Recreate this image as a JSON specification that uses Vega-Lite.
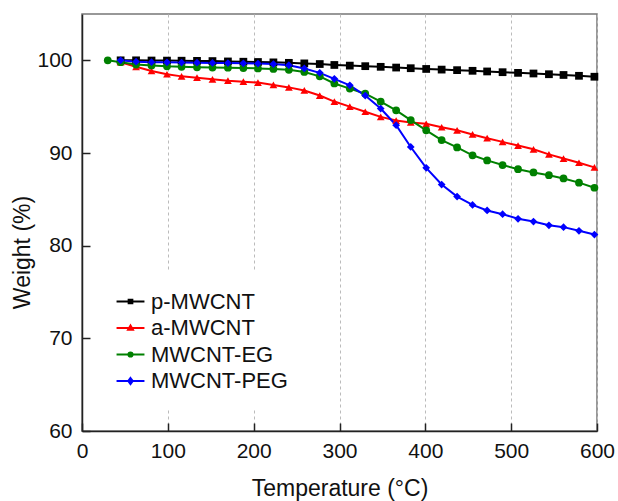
{
  "$schema": "https://vega.github.io/schema/vega-lite/v6.json",
  "width": 515,
  "height": 417,
  "autosize": {"type": "none"},
  "padding": {"left": 82, "top": 14, "right": 21, "bottom": 70},
  "background": "white",
  "config": {
    "view": {"stroke": "#777777", "strokeWidth": 1.5},
    "font": "Liberation Sans"
  },
  "resolve": {"legend": {"shape": "independent"}},
  "datasets": {
    "tga": [
      {"series": "p-MWCNT", "temperature": 45, "weight": 100.0},
      {"series": "p-MWCNT", "temperature": 63, "weight": 100.0},
      {"series": "p-MWCNT", "temperature": 81, "weight": 99.98},
      {"series": "p-MWCNT", "temperature": 99, "weight": 99.97},
      {"series": "p-MWCNT", "temperature": 116, "weight": 99.96},
      {"series": "p-MWCNT", "temperature": 134, "weight": 99.94},
      {"series": "p-MWCNT", "temperature": 152, "weight": 99.92},
      {"series": "p-MWCNT", "temperature": 170, "weight": 99.88},
      {"series": "p-MWCNT", "temperature": 188, "weight": 99.85},
      {"series": "p-MWCNT", "temperature": 205, "weight": 99.82},
      {"series": "p-MWCNT", "temperature": 223, "weight": 99.78},
      {"series": "p-MWCNT", "temperature": 241, "weight": 99.73},
      {"series": "p-MWCNT", "temperature": 259, "weight": 99.67},
      {"series": "p-MWCNT", "temperature": 277, "weight": 99.6},
      {"series": "p-MWCNT", "temperature": 294, "weight": 99.5},
      {"series": "p-MWCNT", "temperature": 312, "weight": 99.43},
      {"series": "p-MWCNT", "temperature": 330, "weight": 99.37},
      {"series": "p-MWCNT", "temperature": 348, "weight": 99.3},
      {"series": "p-MWCNT", "temperature": 366, "weight": 99.22},
      {"series": "p-MWCNT", "temperature": 383, "weight": 99.15},
      {"series": "p-MWCNT", "temperature": 401, "weight": 99.07},
      {"series": "p-MWCNT", "temperature": 419, "weight": 99.0},
      {"series": "p-MWCNT", "temperature": 437, "weight": 98.94},
      {"series": "p-MWCNT", "temperature": 455, "weight": 98.87},
      {"series": "p-MWCNT", "temperature": 472, "weight": 98.8},
      {"series": "p-MWCNT", "temperature": 490, "weight": 98.72},
      {"series": "p-MWCNT", "temperature": 508, "weight": 98.65},
      {"series": "p-MWCNT", "temperature": 526, "weight": 98.58},
      {"series": "p-MWCNT", "temperature": 544, "weight": 98.5},
      {"series": "p-MWCNT", "temperature": 561, "weight": 98.42},
      {"series": "p-MWCNT", "temperature": 579, "weight": 98.33},
      {"series": "p-MWCNT", "temperature": 597, "weight": 98.23},

      {"series": "a-MWCNT", "temperature": 45, "weight": 99.8},
      {"series": "a-MWCNT", "temperature": 63, "weight": 99.3},
      {"series": "a-MWCNT", "temperature": 81, "weight": 98.85},
      {"series": "a-MWCNT", "temperature": 99, "weight": 98.5},
      {"series": "a-MWCNT", "temperature": 116, "weight": 98.27},
      {"series": "a-MWCNT", "temperature": 134, "weight": 98.13},
      {"series": "a-MWCNT", "temperature": 152, "weight": 97.95},
      {"series": "a-MWCNT", "temperature": 170, "weight": 97.8},
      {"series": "a-MWCNT", "temperature": 188, "weight": 97.7},
      {"series": "a-MWCNT", "temperature": 205, "weight": 97.6},
      {"series": "a-MWCNT", "temperature": 223, "weight": 97.35},
      {"series": "a-MWCNT", "temperature": 241, "weight": 97.08},
      {"series": "a-MWCNT", "temperature": 259, "weight": 96.75},
      {"series": "a-MWCNT", "temperature": 277, "weight": 96.2},
      {"series": "a-MWCNT", "temperature": 294, "weight": 95.55},
      {"series": "a-MWCNT", "temperature": 312, "weight": 95.0},
      {"series": "a-MWCNT", "temperature": 330, "weight": 94.45},
      {"series": "a-MWCNT", "temperature": 348, "weight": 93.9},
      {"series": "a-MWCNT", "temperature": 366, "weight": 93.5},
      {"series": "a-MWCNT", "temperature": 383, "weight": 93.3},
      {"series": "a-MWCNT", "temperature": 401, "weight": 93.15},
      {"series": "a-MWCNT", "temperature": 419, "weight": 92.78},
      {"series": "a-MWCNT", "temperature": 437, "weight": 92.45},
      {"series": "a-MWCNT", "temperature": 455, "weight": 92.0},
      {"series": "a-MWCNT", "temperature": 472, "weight": 91.6},
      {"series": "a-MWCNT", "temperature": 490, "weight": 91.2},
      {"series": "a-MWCNT", "temperature": 508, "weight": 90.8},
      {"series": "a-MWCNT", "temperature": 526, "weight": 90.4},
      {"series": "a-MWCNT", "temperature": 544, "weight": 89.85},
      {"series": "a-MWCNT", "temperature": 561, "weight": 89.4},
      {"series": "a-MWCNT", "temperature": 579, "weight": 88.95},
      {"series": "a-MWCNT", "temperature": 597, "weight": 88.45},

      {"series": "MWCNT-EG", "temperature": 30, "weight": 100.0},
      {"series": "MWCNT-EG", "temperature": 45, "weight": 99.8},
      {"series": "MWCNT-EG", "temperature": 63, "weight": 99.55},
      {"series": "MWCNT-EG", "temperature": 81, "weight": 99.45},
      {"series": "MWCNT-EG", "temperature": 99, "weight": 99.35},
      {"series": "MWCNT-EG", "temperature": 116, "weight": 99.3},
      {"series": "MWCNT-EG", "temperature": 134, "weight": 99.25},
      {"series": "MWCNT-EG", "temperature": 152, "weight": 99.22},
      {"series": "MWCNT-EG", "temperature": 170, "weight": 99.2},
      {"series": "MWCNT-EG", "temperature": 188, "weight": 99.17},
      {"series": "MWCNT-EG", "temperature": 205, "weight": 99.13},
      {"series": "MWCNT-EG", "temperature": 223, "weight": 99.07},
      {"series": "MWCNT-EG", "temperature": 241, "weight": 98.98},
      {"series": "MWCNT-EG", "temperature": 259, "weight": 98.75},
      {"series": "MWCNT-EG", "temperature": 277, "weight": 98.27},
      {"series": "MWCNT-EG", "temperature": 294, "weight": 97.5},
      {"series": "MWCNT-EG", "temperature": 312, "weight": 96.95},
      {"series": "MWCNT-EG", "temperature": 330, "weight": 96.4},
      {"series": "MWCNT-EG", "temperature": 348, "weight": 95.55},
      {"series": "MWCNT-EG", "temperature": 366, "weight": 94.6},
      {"series": "MWCNT-EG", "temperature": 383, "weight": 93.55},
      {"series": "MWCNT-EG", "temperature": 401, "weight": 92.45},
      {"series": "MWCNT-EG", "temperature": 419, "weight": 91.4},
      {"series": "MWCNT-EG", "temperature": 437, "weight": 90.6},
      {"series": "MWCNT-EG", "temperature": 455, "weight": 89.75},
      {"series": "MWCNT-EG", "temperature": 472, "weight": 89.2},
      {"series": "MWCNT-EG", "temperature": 490, "weight": 88.7},
      {"series": "MWCNT-EG", "temperature": 508, "weight": 88.25},
      {"series": "MWCNT-EG", "temperature": 526, "weight": 87.9},
      {"series": "MWCNT-EG", "temperature": 544, "weight": 87.6},
      {"series": "MWCNT-EG", "temperature": 561, "weight": 87.25},
      {"series": "MWCNT-EG", "temperature": 579, "weight": 86.8},
      {"series": "MWCNT-EG", "temperature": 597, "weight": 86.25},

      {"series": "MWCNT-PEG", "temperature": 45, "weight": 100.0},
      {"series": "MWCNT-PEG", "temperature": 63, "weight": 99.85},
      {"series": "MWCNT-PEG", "temperature": 81, "weight": 99.8},
      {"series": "MWCNT-PEG", "temperature": 99, "weight": 99.78},
      {"series": "MWCNT-PEG", "temperature": 116, "weight": 99.76},
      {"series": "MWCNT-PEG", "temperature": 134, "weight": 99.74},
      {"series": "MWCNT-PEG", "temperature": 152, "weight": 99.72},
      {"series": "MWCNT-PEG", "temperature": 170, "weight": 99.7},
      {"series": "MWCNT-PEG", "temperature": 188, "weight": 99.68},
      {"series": "MWCNT-PEG", "temperature": 205, "weight": 99.65},
      {"series": "MWCNT-PEG", "temperature": 223, "weight": 99.6},
      {"series": "MWCNT-PEG", "temperature": 241, "weight": 99.48},
      {"series": "MWCNT-PEG", "temperature": 259, "weight": 99.12},
      {"series": "MWCNT-PEG", "temperature": 277, "weight": 98.65},
      {"series": "MWCNT-PEG", "temperature": 294, "weight": 98.0},
      {"series": "MWCNT-PEG", "temperature": 312, "weight": 97.3},
      {"series": "MWCNT-PEG", "temperature": 330, "weight": 96.2},
      {"series": "MWCNT-PEG", "temperature": 348, "weight": 94.8},
      {"series": "MWCNT-PEG", "temperature": 366, "weight": 93.0},
      {"series": "MWCNT-PEG", "temperature": 383, "weight": 90.65},
      {"series": "MWCNT-PEG", "temperature": 401, "weight": 88.4},
      {"series": "MWCNT-PEG", "temperature": 419, "weight": 86.6},
      {"series": "MWCNT-PEG", "temperature": 437, "weight": 85.3},
      {"series": "MWCNT-PEG", "temperature": 455, "weight": 84.4},
      {"series": "MWCNT-PEG", "temperature": 472, "weight": 83.8},
      {"series": "MWCNT-PEG", "temperature": 490, "weight": 83.4},
      {"series": "MWCNT-PEG", "temperature": 508, "weight": 82.9},
      {"series": "MWCNT-PEG", "temperature": 526, "weight": 82.6},
      {"series": "MWCNT-PEG", "temperature": 544, "weight": 82.2},
      {"series": "MWCNT-PEG", "temperature": 561, "weight": 82.0},
      {"series": "MWCNT-PEG", "temperature": 579, "weight": 81.6},
      {"series": "MWCNT-PEG", "temperature": 597, "weight": 81.2}
    ]
  },
  "data": {"name": "tga"},
  "encoding": {
    "x": {
      "field": "temperature",
      "type": "quantitative",
      "scale": {"domain": [0, 600], "nice": false, "zero": false},
      "axis": {
        "title": "Temperature (°C)",
        "values": [0, 100, 200, 300, 400, 500, 600],
        "grid": true,
        "gridDash": [3, 3],
        "gridColor": "#bbbbbb",
        "gridWidth": 1,
        "domainColor": "#222222",
        "domainWidth": 1.5,
        "tickColor": "#222222",
        "tickWidth": 1.5,
        "tickSize": -8,
        "labelPadding": 17,
        "labelFontSize": 21,
        "labelColor": "#111111",
        "labelFont": "Liberation Sans",
        "labelFlush": false,
        "labelOverlap": false,
        "titleFontSize": 23,
        "titleFontWeight": "normal",
        "titleFont": "Liberation Sans",
        "titleColor": "#111111",
        "titlePadding": 16
      }
    },
    "y": {
      "field": "weight",
      "type": "quantitative",
      "scale": {"domain": [60, 105], "nice": false, "zero": false},
      "axis": {
        "title": "Weight (%)",
        "values": [60, 70, 80, 90, 100],
        "grid": false,
        "domainColor": "#222222",
        "domainWidth": 1.5,
        "tickColor": "#222222",
        "tickWidth": 1.5,
        "tickSize": -8,
        "labelPadding": 18,
        "labelFontSize": 21,
        "labelColor": "#111111",
        "labelFont": "Liberation Sans",
        "labelFlush": false,
        "labelOverlap": false,
        "titleFontSize": 23,
        "titleFontWeight": "normal",
        "titleFont": "Liberation Sans",
        "titleColor": "#111111",
        "titlePadding": 2,
        "titleY": 238
      }
    },
    "color": {
      "field": "series",
      "type": "nominal",
      "scale": {
        "domain": ["p-MWCNT", "a-MWCNT", "MWCNT-EG", "MWCNT-PEG"],
        "range": ["#000000", "#ff0000", "#008000", "#0000ff"]
      },
      "legend": {
        "title": null,
        "orient": "none",
        "legendX": 18,
        "legendY": 257,
        "padding": 17,
        "fillColor": "white",
        "labelFontSize": 22,
        "labelFont": "Liberation Sans",
        "labelColor": "#111111",
        "labelOffset": 7,
        "symbolSize": 610,
        "symbolStrokeWidth": 2,
        "rowPadding": 1.5,
        "encode": {
          "symbols": {
            "update": {
              "shape": {"signal": "datum.value === 'p-MWCNT' ? 'M-1.13,0H1.13M-0.15,-0.15H0.15V0.15H-0.15Z' : datum.value === 'a-MWCNT' ? 'M-1.13,0H1.13M0,-0.2L0.2,0.15H-0.2Z' : datum.value === 'MWCNT-EG' ? 'M-1.13,0H1.13M-0.17,0A0.17,0.17,0,1,0,0.17,0A0.17,0.17,0,1,0,-0.17,0Z' : 'M-1.13,0H1.13M0,-0.24L0.18,0L0,0.24L-0.18,0Z'"},
              "stroke": {"signal": "scale('color', datum.value)"},
              "fill": {"signal": "scale('color', datum.value)"},
              "strokeWidth": {"value": 2},
              "opacity": {"value": 1}
            }
          }
        }
      }
    }
  },
  "layer": [
    {
      "mark": {"type": "line", "strokeWidth": 2},
      "encoding": {"order": {"field": "temperature", "type": "quantitative"}}
    },
    {
      "mark": {"type": "point", "filled": true, "opacity": 1, "size": 60},
      "encoding": {
        "shape": {
          "field": "series",
          "type": "nominal",
          "scale": {
            "domain": ["p-MWCNT", "a-MWCNT", "MWCNT-EG", "MWCNT-PEG"],
            "range": ["square", "triangle-up", "circle", "diamond"]
          },
          "legend": null
        }
      }
    }
  ]
}
